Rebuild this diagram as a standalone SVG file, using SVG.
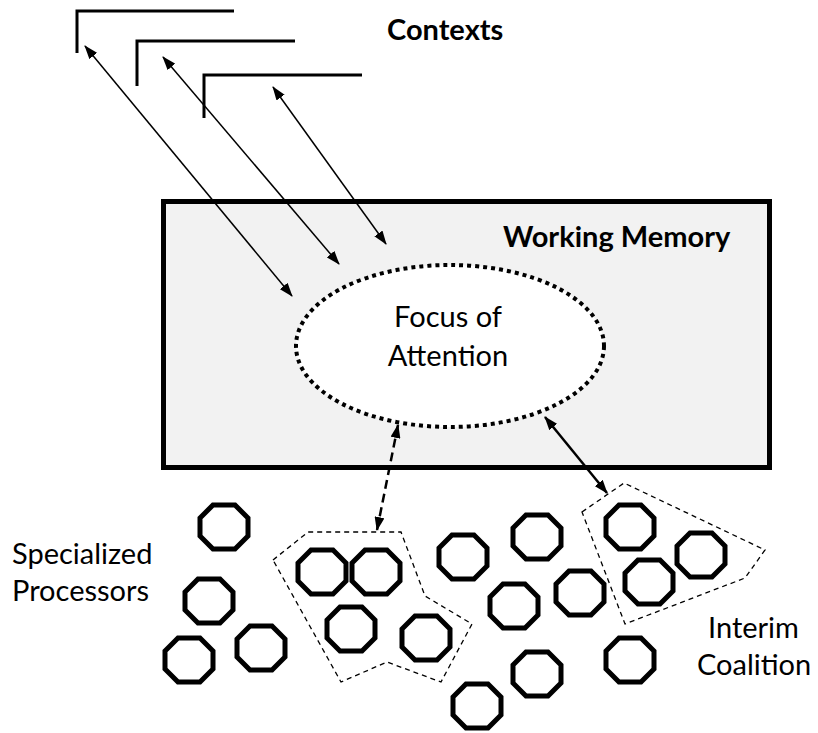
<svg xmlns="http://www.w3.org/2000/svg" xmlns:xlink="http://www.w3.org/1999/xlink" width="818" height="733" viewBox="0 0 818 733">
  <style>
    .lbl { font-family: Lato, "Open Sans", "Liberation Sans", sans-serif; fill: #000; font-size: 29px; }
    .bold { font-weight: bold; }
    .ctx { fill: none; stroke: #000; stroke-width: 3; }
    .thin { fill: none; stroke: #000; stroke-width: 1.5; }
    .thick { fill: none; stroke: #000; stroke-width: 2.5; }
    .dash { stroke-dasharray: 9 5; }
    .oct { fill: #fff; stroke: #000; stroke-width: 5; stroke-linejoin: miter; }
    .group { fill: none; stroke: #000; stroke-width: 1.3; stroke-dasharray: 5 4; }
  </style>
  <defs>
    <marker id="head" viewBox="0 0 14 10" refX="13" refY="5" markerWidth="14" markerHeight="10" markerUnits="userSpaceOnUse" orient="auto-start-reverse">
      <path d="M0,0 L14,5 L0,10 z" fill="#000"/>
    </marker>
    <polygon id="oct" points="-11,-22 11,-22 24,-9 24,9 11,22 -11,22 -24,9 -24,-9"/>
  </defs>

  <!-- context frames -->
  <g id="contexts">
    <polyline class="ctx" points="77,53 77,11 234,11"/>
    <polyline class="ctx" points="137,86 137,41 295,41"/>
    <polyline class="ctx" points="204,118 204,75 362,75"/>
    <text class="lbl bold" x="387" y="40">Contexts</text>
  </g>

  <!-- working memory -->
  <g id="working-memory">
    <rect x="163.5" y="201.5" width="606" height="266" fill="#f2f2f2" stroke="#000" stroke-width="5"/>
    <text class="lbl bold" x="503" y="247">Working Memory</text>
  </g>

  <!-- focus of attention -->
  <g id="focus">
    <ellipse cx="450" cy="346" rx="154" ry="81" fill="#fff" stroke="#000" stroke-width="4" stroke-dasharray="4 4"/>
    <text class="lbl" x="448" y="327" text-anchor="middle">Focus of</text>
    <text class="lbl" x="448" y="366" text-anchor="middle">Attention</text>
  </g>

  <!-- interim coalitions -->
  <g id="coalition-1">
    <polygon class="group" points="273,560 308,532 401,532 425,596 472,624 441,682 387,662 341,682"/>
  </g>
  <g id="coalition-2">
    <polygon class="group" points="582,512 624,483 765,550 745,578 625,624"/>
  </g>

  <!-- specialized processors -->
  <g id="p1"><use href="#oct" class="oct" x="224" y="527"/></g>
  <g id="p2"><use href="#oct" class="oct" x="209" y="601"/></g>
  <g id="p3"><use href="#oct" class="oct" x="189" y="660"/></g>
  <g id="p4"><use href="#oct" class="oct" x="261" y="648"/></g>
  <g id="p5"><use href="#oct" class="oct" x="322" y="572"/></g>
  <g id="p6"><use href="#oct" class="oct" x="376" y="572"/></g>
  <g id="p7"><use href="#oct" class="oct" x="351" y="629"/></g>
  <g id="p8"><use href="#oct" class="oct" x="426" y="638"/></g>
  <g id="p9"><use href="#oct" class="oct" x="463" y="557"/></g>
  <g id="p10"><use href="#oct" class="oct" x="537" y="537"/></g>
  <g id="p11"><use href="#oct" class="oct" x="514" y="606"/></g>
  <g id="p12"><use href="#oct" class="oct" x="580" y="593"/></g>
  <g id="p13"><use href="#oct" class="oct" x="537" y="674"/></g>
  <g id="p14"><use href="#oct" class="oct" x="477" y="706"/></g>
  <g id="p15"><use href="#oct" class="oct" x="630" y="660"/></g>
  <g id="p16"><use href="#oct" class="oct" x="630" y="527"/></g>
  <g id="p17"><use href="#oct" class="oct" x="701" y="555"/></g>
  <g id="p18"><use href="#oct" class="oct" x="649" y="582"/></g>

  <g id="labels">
    <text class="lbl" x="12" y="564">Specialized</text>
    <text class="lbl" x="12" y="601">Processors</text>
    <text class="lbl" x="708" y="638">Interim</text>
    <text class="lbl" x="697" y="675">Coalition</text>
  </g>

  <!-- connectors -->
  <g id="connectors">
    <line class="thin" x1="85" y1="46" x2="292" y2="296" marker-start="url(#head)" marker-end="url(#head)"/>
    <line class="thin" x1="163" y1="57" x2="339" y2="264" marker-start="url(#head)" marker-end="url(#head)"/>
    <line class="thin" x1="273" y1="87" x2="386" y2="244" marker-start="url(#head)" marker-end="url(#head)"/>
    <line class="thick dash" x1="398" y1="425" x2="377" y2="530" marker-start="url(#head)" marker-end="url(#head)"/>
    <line class="thick" x1="545" y1="417" x2="607" y2="493" marker-start="url(#head)" marker-end="url(#head)"/>
  </g>
</svg>
